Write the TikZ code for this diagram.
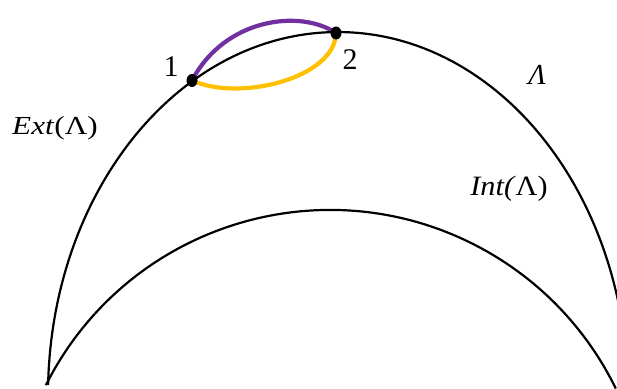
\documentclass[tikz,border=0pt]{standalone}
\usepackage{fontspec}
\setmainfont{Liberation Serif}
\usetikzlibrary{shapes.geometric, positioning, backgrounds}
\definecolor{loopviolet}{RGB}{112,48,160}
\definecolor{loopyellow}{RGB}{255,192,0}
\tikzset{
  boundary/.style={line width=2.2pt, black},
  violetpath/.style={line width=4.2pt, color=loopviolet},
  yellowpath/.style={line width=4.2pt, color=loopyellow},
  dot/.style={ellipse, fill=black, inner sep=0pt, minimum width=11pt,
    minimum height=13pt},
  lbl/.style={inner sep=0pt, anchor=base, font=\fontsize{26}{26}\selectfont},
}
\begin{document}
\begin{tikzpicture}[x=1pt, y=1pt]
  \useasboundingbox (0,0) rectangle (617,388);
  \begin{scope}
    \clip (0,0) rectangle (617,388);
    % outer curve Lambda and inner curve
    \draw[boundary] (48.1,3.1)
      arc[start angle=178.4, end angle=10, x radius=290pt, y radius=363pt];
    \draw[boundary] (45.9,2.9)
      arc[start angle=153.3, end angle=26, radius=318pt];
  \end{scope}
  % the two points
  \node[dot] (one) at (192,307.5) {};
  \node[dot] (two) at (336,355) {};
  \begin{scope}[on background layer]
    \draw[violetpath, line cap=round] (one.center)
      .. controls (225,370) and (300,379) .. (two.center);
    \draw[yellowpath, line cap=round] (one.center)
      .. controls (240,286) and (335,310) .. (two.center);
  \end{scope}
  % labels
  \node[lbl, font=\fontsize{30}{30}\selectfont] (n1) at (171,311) {1};
  \node[lbl, font=\fontsize{30}{30}\selectfont] (n2) at (350,318) {2};
  \node[lbl, font=\fontsize{29}{29}\selectfont] (lam) at (537,303) {\textit{Λ}};
  \node[lbl, xscale=1.2] (ext) at (55,253) {\textit{Ext}(Λ)};
  \node[lbl, font=\fontsize{28}{28}\selectfont, xscale=1.08] (int) at (509,192)
    {\textit{Int(}Λ)};
\end{tikzpicture}
\end{document}
